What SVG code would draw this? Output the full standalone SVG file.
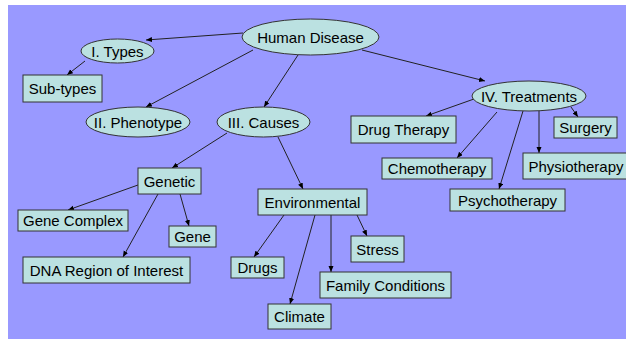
<svg xmlns="http://www.w3.org/2000/svg" width="626" height="339" viewBox="0 0 626 339">
<style>
.n{fill:#bbe1e1;stroke:#333;stroke-width:1}
.t{font-family:"Liberation Sans",Arial,sans-serif;font-size:15px;fill:#000;text-anchor:middle}
.c{stroke:#222;stroke-width:1;fill:none;marker-end:url(#ah)}
</style>
<defs>
<marker id="ah" markerUnits="userSpaceOnUse" markerWidth="7" markerHeight="6" refX="6" refY="2.5" orient="auto">
<path d="M0,0 L6,2.5 L0,5 z" fill="#000"/>
</marker>
</defs>
<rect x="0" y="0" width="626" height="339" fill="#fff"/>
<rect x="8" y="5" width="618" height="334" fill="#9999ff"/>
<g id="connectors">
<path class="c" d="M243,33 L146,40"/>
<path class="c" d="M253,50 L146,107"/>
<path class="c" d="M298,55 L264,107"/>
<path class="c" d="M362,50 L485,81"/>
<path class="c" d="M85,61 L67,75"/>
<path class="c" d="M227,133 L172,168"/>
<path class="c" d="M278,137 L303,189"/>
<path class="c" d="M474,99 L426,116"/>
<path class="c" d="M497,112 L457,158"/>
<path class="c" d="M523,111 L499,189"/>
<path class="c" d="M539,111 L539,153"/>
<path class="c" d="M571,107 L578,117"/>
<path class="c" d="M138,185 L68,210"/>
<path class="c" d="M158,194 L123,257"/>
<path class="c" d="M180,194 L189,226"/>
<path class="c" d="M284,215 L254,257"/>
<path class="c" d="M315,215 L290,304"/>
<path class="c" d="M331,215 L331,272"/>
<path class="c" d="M357,215 L367,236"/>
</g>
<g id="human-disease"><ellipse class="n" cx="310.5" cy="37" rx="68.5" ry="18"/><text class="t" x="310.5" y="42.5">Human Disease</text></g>
<g id="types"><ellipse class="n" cx="117.5" cy="51" rx="36.5" ry="12"/><text class="t" x="117.5" y="56.5">I. Types</text></g>
<g id="phenotype"><ellipse class="n" cx="138" cy="122" rx="52" ry="15"/><text class="t" x="138" y="127.5">II. Phenotype</text></g>
<g id="causes"><ellipse class="n" cx="263.5" cy="122" rx="46.5" ry="15"/><text class="t" x="263.5" y="127.5">III. Causes</text></g>
<g id="treatments"><ellipse class="n" cx="529" cy="96" rx="57" ry="15"/><text class="t" x="529" y="101.5">IV. Treatments</text></g>
<g id="sub-types"><rect class="n" x="23" y="75" width="79" height="27"/><text class="t" x="62.5" y="94">Sub-types</text></g>
<g id="drug-therapy"><rect class="n" x="351" y="116" width="105" height="27"/><text class="t" x="403.5" y="135">Drug Therapy</text></g>
<g id="surgery"><rect class="n" x="554" y="117" width="63" height="21"/><text class="t" x="585.5" y="133">Surgery</text></g>
<g id="chemotherapy"><rect class="n" x="382" y="158" width="110" height="21"/><text class="t" x="437" y="174">Chemotherapy</text></g>
<g id="physiotherapy"><rect class="n" x="523" y="153" width="106" height="26"/><text class="t" x="576" y="171.5">Physiotherapy</text></g>
<g id="psychotherapy"><rect class="n" x="450" y="189" width="115" height="22"/><text class="t" x="507.5" y="205.5">Psychotherapy</text></g>
<g id="genetic"><rect class="n" x="138" y="168" width="63" height="26"/><text class="t" x="169.5" y="186.5">Genetic</text></g>
<g id="environmental"><rect class="n" x="258" y="189" width="109" height="26"/><text class="t" x="312.5" y="207.5">Environmental</text></g>
<g id="gene-complex"><rect class="n" x="18" y="210" width="110" height="21"/><text class="t" x="73" y="226">Gene Complex</text></g>
<g id="gene"><rect class="n" x="169" y="226" width="47" height="21"/><text class="t" x="192.5" y="242">Gene</text></g>
<g id="dna-region"><rect class="n" x="23" y="257" width="167" height="26"/><text class="t" x="106.5" y="275.5">DNA Region of Interest</text></g>
<g id="drugs"><rect class="n" x="231" y="257" width="53" height="21"/><text class="t" x="257.5" y="273">Drugs</text></g>
<g id="climate"><rect class="n" x="268" y="304" width="63" height="25"/><text class="t" x="299.5" y="322">Climate</text></g>
<g id="stress"><rect class="n" x="351" y="236" width="53" height="26"/><text class="t" x="377.5" y="254.5">Stress</text></g>
<g id="family-conditions"><rect class="n" x="320" y="272" width="131" height="26"/><text class="t" x="385.5" y="290.5">Family Conditions</text></g>
</svg>
